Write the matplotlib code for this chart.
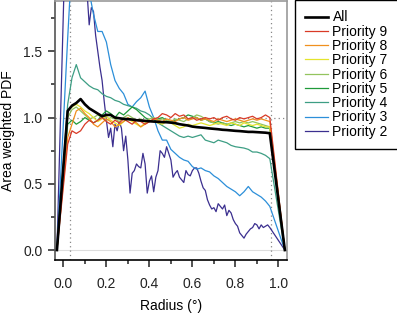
import numpy as np
import matplotlib
matplotlib.use("Agg")
import matplotlib.pyplot as plt

plt.rcParams['font.family'] = ['Liberation Sans', 'DejaVu Sans']

# ---------------- data ----------------
radius = [0.02, 0.04, 0.06, 0.08, 0.10, 0.12, 0.14, 0.16, 0.18, 0.20,
          0.22, 0.24, 0.26, 0.28, 0.30, 0.32, 0.34, 0.36, 0.38, 0.40,
          0.42, 0.44, 0.46, 0.48, 0.50, 0.52, 0.54, 0.56, 0.58, 0.60,
          0.62, 0.64, 0.66, 0.68, 0.70, 0.72, 0.74, 0.76, 0.78, 0.80,
          0.82, 0.84, 0.86, 0.88, 0.90, 0.92, 0.94, 0.96]
r_start = -0.03
r_end = 1.03

all_pdf = [1.05, 1.09, 1.11, 1.14, 1.10, 1.07, 1.05, 1.03, 1.01, 1.02,
           1.02, 1.00, 0.995, 0.99, 0.988, 0.985, 0.98, 0.978, 0.975, 0.972,
           0.97, 0.968, 0.966, 0.965, 0.962, 0.958, 0.95, 0.945, 0.94, 0.932,
           0.928, 0.925, 0.922, 0.918, 0.915, 0.912, 0.908, 0.906, 0.903, 0.90,
           0.898, 0.895, 0.892, 0.892, 0.89, 0.888, 0.886, 0.882]
p9 = [0.80, 0.90, 0.88, 0.90, 0.95, 0.98, 0.96, 0.98, 1.00, 0.97,
      0.95, 0.98, 0.96, 0.99, 0.97, 0.95, 0.98, 0.97, 0.95, 0.97,
      0.99, 1.00, 1.03, 1.02, 1.00, 1.03, 1.01, 1.02, 0.99, 1.00,
      0.98, 0.99, 1.00, 0.99, 1.00, 0.98, 1.00, 1.01, 0.99, 0.98,
      1.00, 0.99, 1.00, 1.01, 0.99, 1.00, 1.02, 1.00]
p8 = [0.85, 0.95, 1.05, 1.07, 1.03, 1.00, 0.95, 0.93, 0.96, 0.99,
      0.97, 0.93, 0.95, 0.97, 1.00, 0.98, 0.96, 0.93, 0.95, 0.97,
      0.99, 0.98, 0.97, 0.99, 0.98, 0.97, 0.99, 1.00, 0.98, 0.99,
      1.00, 0.98, 0.99, 0.98, 0.97, 0.99, 0.98, 0.97, 0.98, 0.99,
      0.98, 0.97, 0.98, 0.99, 0.98, 0.99, 0.98, 0.97]
p7 = [1.05, 1.08, 1.10, 1.08, 1.05, 1.03, 1.00, 0.97, 0.99, 1.01,
      0.98, 0.96, 0.94, 0.97, 0.99, 0.97, 0.95, 0.93, 0.96, 0.98,
      0.97, 0.96, 0.95, 0.97, 0.96, 0.94, 0.92, 0.93, 0.95, 0.94,
      0.95, 0.96, 0.95, 0.94, 0.95, 0.96, 0.95, 0.94, 0.96, 0.95,
      0.94, 0.96, 0.95, 0.94, 0.95, 0.94, 0.93, 0.93]
p6 = [1.00, 1.06, 1.08, 1.05, 1.02, 0.99, 1.00, 1.02, 1.00, 0.98,
      1.00, 0.99, 0.97, 1.00, 1.02, 1.00, 0.98, 0.99, 0.97, 0.99,
      1.00, 0.98, 0.99, 0.98, 0.97, 0.99, 0.98, 0.97, 0.99, 1.00,
      1.02, 1.01, 0.99, 0.97, 0.96, 0.95, 0.96, 0.95, 0.96, 0.97,
      0.96, 0.97, 0.96, 0.97, 0.96, 0.95, 0.94, 0.93]
p5 = [0.95, 0.98, 0.95, 0.97, 1.00, 0.98, 0.96, 0.98, 1.02, 1.05,
      1.03, 1.00, 1.04, 1.02, 1.05, 1.08, 1.06, 1.03, 1.00, 0.98,
      0.97, 0.99, 1.00, 0.98, 0.97, 0.98, 0.99, 1.00, 1.02, 1.01,
      1.00, 0.98, 0.99, 0.97, 0.96, 0.97, 0.96, 0.95, 0.94, 0.95,
      0.94, 0.93, 0.94, 0.93, 0.92, 0.93, 0.92, 0.92]
p4 = [1.10, 1.30, 1.40, 1.30, 1.27, 1.24, 1.22, 1.21, 1.18, 1.16,
      1.15, 1.13, 1.12, 1.10, 1.09, 1.08, 1.07, 1.05, 1.04, 1.02,
      0.99, 0.96, 0.94, 0.92, 0.90, 0.88, 0.86, 0.85, 0.86, 0.85,
      0.86, 0.87, 0.83, 0.82, 0.81, 0.83, 0.82, 0.81, 0.79, 0.78,
      0.775, 0.77, 0.76, 0.74, 0.74, 0.73, 0.715, 0.69]
p3 = [1.60, 2.20, 2.40, 2.30, 2.10, 1.95, 1.78, 1.65, 1.65, 1.57,
      1.40, 1.28, 1.22, 1.18, 1.10, 1.08, 1.12, 1.15, 1.20, 1.08,
      1.00, 0.90, 0.83, 0.83, 0.76, 0.73, 0.70, 0.68, 0.67, 0.63,
      0.61, 0.62, 0.60, 0.59, 0.56, 0.54, 0.51, 0.48, 0.46, 0.44,
      0.41, 0.44, 0.48, 0.44, 0.42, 0.40, 0.37, 0.33]

radius_fine = [0.02, 0.03, 0.04, 0.05, 0.06, 0.07, 0.08, 0.09, 0.10, 0.11,
               0.12, 0.13, 0.14, 0.15, 0.16, 0.17, 0.18, 0.19, 0.20, 0.21,
               0.22, 0.23, 0.24, 0.25, 0.26, 0.27, 0.28, 0.29, 0.30, 0.31,
               0.32, 0.33, 0.34, 0.35, 0.36, 0.37, 0.38, 0.39, 0.40, 0.41,
               0.42, 0.43, 0.44, 0.45, 0.46, 0.47, 0.48, 0.49, 0.50, 0.51,
               0.52, 0.53, 0.54, 0.55, 0.56, 0.57, 0.58, 0.59, 0.60, 0.61,
               0.62, 0.63, 0.64, 0.65, 0.66, 0.67, 0.68, 0.69, 0.70, 0.71,
               0.72, 0.73, 0.74, 0.75, 0.76, 0.77, 0.78, 0.79, 0.80, 0.81,
               0.82, 0.83, 0.84, 0.85, 0.86, 0.87, 0.88, 0.89, 0.90, 0.91,
               0.92, 0.93, 0.94, 0.95, 0.96]
p2 = [3.0, 2.9, 2.8, 2.7, 2.6, 2.5, 2.4, 2.2, 2.1, 1.95,
      1.70, 1.83, 1.80, 1.62, 1.50, 1.38, 1.28, 1.12, 0.98, 0.85,
      0.92, 0.78, 0.95, 0.90, 0.97, 0.92, 0.75, 0.86, 0.68, 0.43,
      0.58, 0.60, 0.65, 0.63, 0.62, 0.73, 0.65, 0.43, 0.52, 0.56,
      0.44, 0.55, 0.60, 0.75, 0.73, 0.70, 0.78, 0.73, 0.68, 0.55,
      0.58, 0.60, 0.55, 0.53, 0.51, 0.60, 0.57, 0.56, 0.60, 0.62,
      0.62, 0.58, 0.52, 0.47, 0.45, 0.38, 0.34, 0.31, 0.32, 0.29,
      0.35, 0.33, 0.31, 0.34, 0.26, 0.30, 0.28, 0.23, 0.20, 0.18,
      0.13, 0.11, 0.09, 0.12, 0.14, 0.16, 0.17, 0.20, 0.19, 0.16,
      0.19, 0.17, 0.18, 0.19, 0.17]

labels = ["All", "Priority 9", "Priority 8", "Priority 7", "Priority 6",
          "Priority 5", "Priority 4", "Priority 3", "Priority 2"]
colors = ["black", "#d93a26", "#f0901e", "#e4e42c", "#93c45e",
          "#1f9a3a", "#3d9e84", "#2c8fd9", "#3b2f8f"]

# ---------------- figure ----------------
fig = plt.figure(figsize=(3.97, 3.13), dpi=100)
ax = fig.add_axes([55/397, 53/313, 232/397, 259/313])

ax.set_xlim(-0.039, 1.04)
ax.set_ylim(-0.075, 1.88)

# reference lines
ax.axhline(0, color="#dddddd", lw=0.8, zorder=1)
ax.axhline(1.0, color="#888888", lw=0.9, ls=(0, (1, 2.5)), zorder=1)
ax.axvline(0.033, color="#888888", lw=0.9, ls=(0, (1, 2.5)), zorder=1)
ax.axvline(0.965, color="#888888", lw=0.9, ls=(0, (1, 2.5)), zorder=1)

def full(xs, ys):
    return [r_start] + list(xs) + [r_end], [0.0] + list(ys) + [0.0]

series = [(radius, all_pdf), (radius, p9), (radius, p8), (radius, p7),
          (radius, p6), (radius, p5), (radius, p4), (radius, p3),
          (radius_fine, p2)]

handles = []
for i in range(len(series) - 1, 0, -1):
    xs, ys = full(*series[i])
    h, = ax.plot(xs, ys, color=colors[i], lw=0.9, zorder=3 + (len(series) - i) * 0.01)
    handles.append((i, h))
xs, ys = full(*series[0])
hb, = ax.plot(xs, ys, color="black", lw=1.9, zorder=5)
handles.append((0, hb))
handles = [h for _, h in sorted(handles, key=lambda t: t[0])]

# spines
for s in ["top", "right"]:
    ax.spines[s].set_color("#999999")
    ax.spines[s].set_linewidth(1.2)
ax.spines["left"].set_color("#555555")
ax.spines["left"].set_linewidth(1.2)
ax.spines["bottom"].set_color("black")
ax.spines["bottom"].set_linewidth(1.2)

ax.set_yticks([0.0, 0.5, 1.0, 1.5])
ax.set_yticklabels(["0.0", "0.5", "1.0", "1.5"])
ax.set_yticks([0.25, 0.75, 1.25, 1.75], minor=True)
ax.set_xticks([0.0, 0.2, 0.4, 0.6, 0.8, 1.0])
ax.set_xticklabels(["0.0", "0.2", "0.4", "0.6", "0.8", "1.0"])
ax.set_xticks([0.1, 0.3, 0.5, 0.7, 0.9], minor=True)
ax.tick_params(axis="both", which="major", direction="out", length=5, width=1.1,
               labelsize=10, colors="#222222", pad=4)
ax.tick_params(axis="both", which="minor", direction="out", length=3, width=1.1,
               colors="#222222")
ax.tick_params(axis="x", which="major", pad=7)

ax.set_xlabel("Radius (°)", fontsize=10, labelpad=6)
ax.set_ylabel("Area weighted PDF", fontsize=10, labelpad=6)

leg = fig.legend(handles, labels, loc="upper left",
                 bbox_to_anchor=(295/397, 1.0), bbox_transform=fig.transFigure,
                 fontsize=10, frameon=True, fancybox=False, framealpha=1,
                 edgecolor="black", handlelength=1.6, handletextpad=0.35,
                 labelspacing=0.02, borderpad=0.75, borderaxespad=0.0)
leg.get_frame().set_linewidth(1.0)

fig.savefig("out.png", dpi=100)
